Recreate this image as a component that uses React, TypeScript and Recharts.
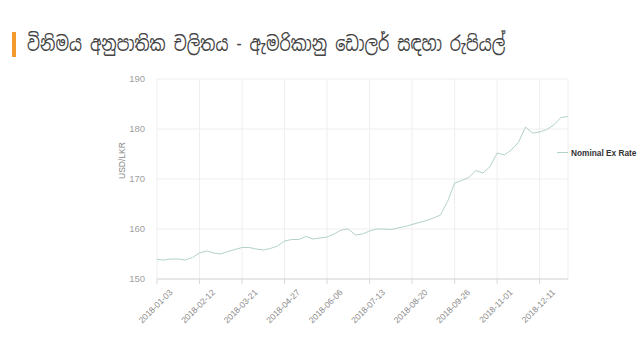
import React from "react";
import { LineChart, Line, XAxis, YAxis, CartesianGrid } from "recharts";

const dates = [
  "2018-01-03", "2018-01-10", "2018-01-16", "2018-01-23", "2018-01-30", "2018-02-05",
  "2018-02-12", "2018-02-19", "2018-02-26", "2018-03-02", "2018-03-08", "2018-03-15",
  "2018-03-21", "2018-03-27", "2018-04-03", "2018-04-09", "2018-04-15", "2018-04-21",
  "2018-04-27", "2018-05-04", "2018-05-11", "2018-05-17", "2018-05-24", "2018-05-30",
  "2018-06-06", "2018-06-12", "2018-06-19", "2018-06-25", "2018-07-01", "2018-07-07",
  "2018-07-13", "2018-07-19", "2018-07-26", "2018-08-01", "2018-08-08", "2018-08-14",
  "2018-08-20", "2018-08-26", "2018-09-02", "2018-09-08", "2018-09-14", "2018-09-20",
  "2018-09-26", "2018-10-02", "2018-10-08", "2018-10-14", "2018-10-20", "2018-10-26",
  "2018-11-01", "2018-11-08", "2018-11-15", "2018-11-21", "2018-11-28", "2018-12-04",
  "2018-12-11", "2018-12-16", "2018-12-21", "2018-12-26", "2018-12-31",
];

const nominalRate = [
  153.9, 153.8, 154.0, 154.0, 153.8, 154.3,
  155.2, 155.6, 155.2, 155.0, 155.5, 155.9,
  156.3, 156.3, 156.0, 155.8, 156.1, 156.6,
  157.6, 157.9, 157.9, 158.5, 158.0, 158.2,
  158.4, 159.0, 159.8, 160.0, 158.8, 159.0,
  159.6, 160.0, 160.0, 159.9, 160.2, 160.5,
  160.9, 161.3, 161.7, 162.2, 162.8, 165.5,
  169.2, 169.7, 170.3, 171.7, 171.2, 172.5,
  175.2, 174.8, 175.8, 177.3, 180.4, 179.2,
  179.4, 179.9, 180.8, 182.3, 182.5,
];

const xTicks = [
  "2018-01-03", "2018-02-12", "2018-03-21", "2018-04-27", "2018-06-06",
  "2018-07-13", "2018-08-20", "2018-09-26", "2018-11-01", "2018-12-11",
];
const yTicks = [150, 160, 170, 180, 190];

const title = "විනිමය අනුපාතික චලිතය - ඇමරිකානු ඩොලර් සඳහා රුපියල්";
const seriesName = "Nominal Ex Rate";

const data = dates.map((date, i) => ({ date, rate: nominalRate[i] }));

const lineColor = "#b3d1cc";

function DateTick(props: any) {
  const { x, y, payload } = props;
  return (
    <g transform={`translate(${x + 16},${y + 7}) rotate(-45)`}>
      <text textAnchor="end" fontSize={8.5} fill="#888" fontFamily="Liberation Sans, Arial, sans-serif">
        {payload.value}
      </text>
    </g>
  );
}

export default function App() {
  return (
    <div
      style={{
        position: "absolute",
        left: 0,
        top: 0,
        width: 640,
        height: 360,
        background: "#fff",
        fontFamily: "Liberation Sans, Arial, sans-serif",
      }}
    >
      <LineChart width={640} height={360} data={data} margin={{ top: 79, right: 72, left: 97, bottom: 21 }}>
        <CartesianGrid stroke="#eeeeee" />
        <XAxis
          dataKey="date"
          ticks={xTicks}
          interval={0}
          height={60}
          tick={<DateTick />}
          tickSize={5}
          tickLine={{ stroke: "#d8d8d8" }}
          axisLine={{ stroke: "#d6d6d6" }}
        />
        <YAxis
          domain={[150, 190]}
          ticks={yTicks}
          width={60}
          tickLine={false}
          axisLine={false}
          tickSize={6}
          tickMargin={6}
          tick={{ fontSize: 9.5, fill: "#a0a0a0" }}
          label={{ value: "USD/LKR", angle: -90, position: "insideLeft", offset: 25, fontSize: 8.5, fill: "#888" }}
        />
        <Line
          type="linear"
          dataKey="rate"
          name={seriesName}
          stroke={lineColor}
          strokeWidth={1}
          dot={false}
          isAnimationActive={false}
        />
      </LineChart>
      <svg width={640} height={360} style={{ position: "absolute", left: 0, top: 0, pointerEvents: "none" }}>
        <rect x={12} y={32} width={4} height={25} fill="#f39a2f" />
        <text
          transform="translate(27,51) scale(1,1.3)"
          fontSize={16}
          fill="#444"
          fontFamily="'Noto Sans Sinhala', 'Noto Sans', sans-serif"
        >
          {title}
        </text>
        <line x1={557} x2={568} y1={152.5} y2={152.5} stroke={lineColor} strokeWidth={1} />
        <text x={571} y={155.5} fontSize={8.3} fontWeight="bold" fill="#333">
          {seriesName}
        </text>
      </svg>
    </div>
  );
}
